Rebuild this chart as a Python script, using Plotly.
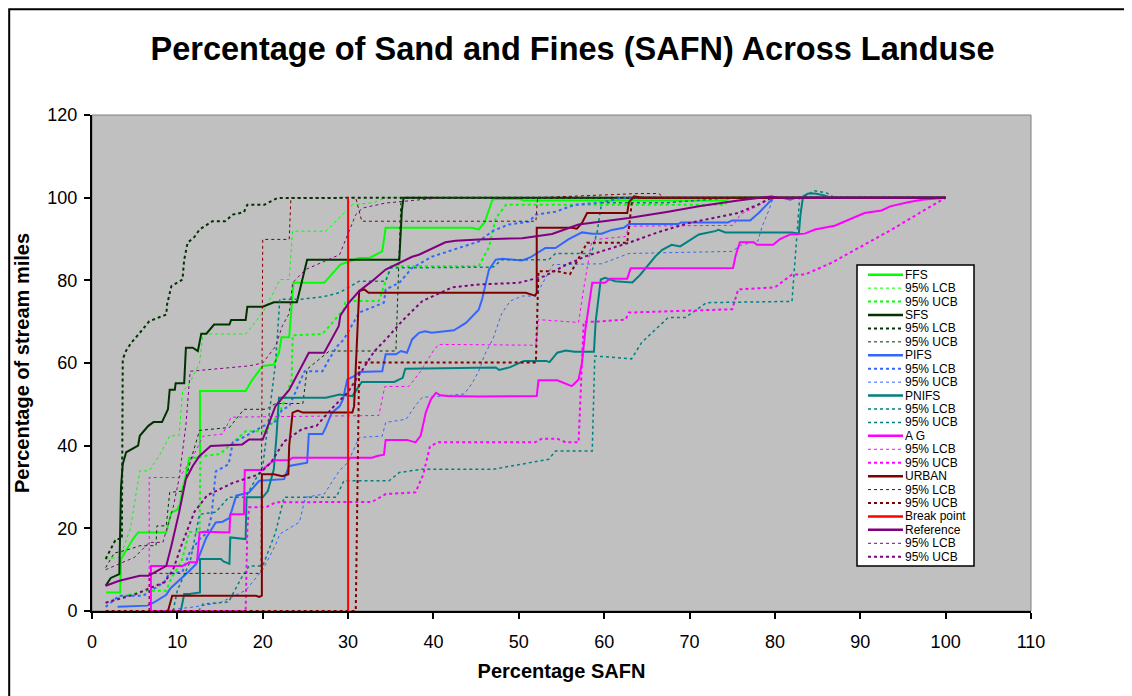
import plotly.graph_objects as go

FONT = "Liberation Sans, Arial, sans-serif"

# ---- FFS ----
ffs_x = [1.66, 3.3, 3.4, 4.8, 5.4, 8.7, 9.0, 9.3, 10.0, 10.3, 10.6, 10.9, 11.4, 12.3, 12.65, 12.65, 18.0, 18.8,
         20.0, 21.3, 21.9, 22.2, 23.1, 23.4, 23.6, 27.2, 29.1, 31.3, 32.5, 34.0, 34.4, 44.5, 45.3, 46.0, 46.9,
         47.3, 50.0, 50.6, 74.2, 74.8, 100]
ffs_y = [4.5, 4.5, 12.6, 17.4, 19.0, 19.0, 21.5, 23.8, 24.5, 25.8, 29.5, 31.9, 37.1, 37.1, 37.5, 53.2, 53.2, 56.0,
         59.3, 59.6, 62.5, 66.2, 66.2, 75.0, 79.4, 79.4, 83.8, 85.4, 85.4, 87.0, 92.7, 92.7, 92.3, 94.0, 99.5,
         99.7, 99.7, 99.3, 99.3, 100, 100]
ffs_lcb_x = [1.6, 3.3, 4.5, 5.6, 6.7, 8.0, 9.1, 10.2, 10.6, 11.4, 12.6, 13.0, 18.0, 20.0, 21.5, 22.0, 23.1, 23.5,
             27.4, 29.0, 30.5, 33.0, 34.4, 100]
ffs_lcb_y = [12.6, 13.0, 20.0, 33.9, 33.9, 38.0, 42.4, 42.4, 53.0, 55.0, 60.0, 67.0, 67.0, 72.2, 78.0, 80.2, 80.2,
             91.9, 91.9, 95.2, 98.3, 98.8, 100, 100]
ffs_ucb_x = [1.6, 3.5, 6.4, 8.7, 9.3, 10.5, 11.4, 12.6, 12.7, 15.0, 18.0, 20.4, 22.0, 23.4, 23.5, 27.0, 29.5, 29.7,
             33.6, 35.0, 45.3, 46.5, 47.3, 48.5, 74.2, 74.5, 100]
ffs_ucb_y = [2.0, 3.5, 4.9, 4.9, 8.0, 12.0, 19.1, 19.1, 37.4, 38.0, 43.5, 43.5, 48.0, 56.0, 66.7, 67.0, 73.0, 75.0,
             75.0, 83.4, 83.4, 88.0, 95.0, 98.3, 98.3, 100, 100]

# ---- SFS ----
sfs_x = [1.6, 2.2, 3.2, 3.4, 3.6, 4.0, 5.4, 5.6, 6.6, 7.2, 8.2, 8.9, 9.1, 9.7, 9.8, 10.8, 11.0, 11.8, 12.4, 12.8,
         13.4, 14.3, 16.1, 16.3, 18.0, 18.2, 20.0, 21.3, 24.0, 24.6, 25.2, 36.0, 36.3, 36.5, 100]
sfs_y = [6.1, 8.0, 8.9, 30.0, 35.5, 38.4, 40.0, 42.4, 44.8, 45.7, 45.7, 48.8, 53.5, 53.5, 55.1, 55.1, 63.7, 63.7,
         62.9, 67.1, 67.1, 69.3, 69.3, 70.4, 70.4, 73.6, 73.6, 74.7, 74.7, 80.0, 85.0, 85.0, 97.0, 100, 100]
sfs_lcb_x = [1.6, 2.8, 3.5, 3.6, 4.0, 4.6, 5.6, 6.7, 7.8, 8.7, 8.8, 9.3, 10.6, 10.8, 11.2, 12.0, 12.6, 14.1, 15.6,
             16.5, 17.8, 18.2, 20.2, 21.7, 36.5, 100]
sfs_lcb_y = [12.6, 17.4, 17.4, 60.9, 63.0, 64.9, 67.3, 70.1, 71.0, 71.7, 74.2, 78.6, 80.2, 85.0, 89.1, 90.5, 92.3,
             94.3, 94.3, 95.9, 96.5, 98.3, 98.3, 99.9, 100, 100]
sfs_ucb_x = [1.6, 2.6, 4.5, 5.6, 7.5, 7.6, 8.7, 9.1, 10.6, 11.5, 12.6, 16.1, 17.8, 20.4, 21.5, 24.7, 25.2, 27.8,
             35.6, 36.2, 100]
sfs_ucb_y = [10.5, 14.0, 15.0, 15.8, 15.8, 20.6, 20.6, 28.7, 29.0, 36.0, 43.7, 44.4, 48.8, 48.8, 50.2, 50.2, 58.5,
             62.9, 62.9, 100, 100]

# ---- PIFS ----
pifs_x = [3.0, 6.5, 7.2, 8.7, 9.2, 10.6, 11.4, 12.2, 13.0, 13.4, 14.5, 15.3, 16.1, 16.9, 18.4, 19.6, 22.5, 23.1,
          25.2, 25.4, 27.0, 27.4, 28.1, 29.0, 29.4, 29.9, 30.7, 31.3, 34.0, 34.4, 35.6, 36.2, 36.9, 37.5, 38.3,
          39.0, 39.8, 42.4, 43.8, 45.3, 45.7, 46.5, 47.3, 48.1, 50.4, 51.4, 52.3, 53.1, 54.3, 55.8, 57.4, 58.6,
          59.7, 60.9, 62.3, 62.9, 68.7, 69.0, 74.5, 75.0, 77.1, 78.1, 79.8, 81.0, 81.8, 82.5, 100]
pifs_y = [1.0, 1.3, 2.0, 3.9, 5.5, 8.1, 9.7, 11.4, 15.8, 17.8, 21.4, 21.6, 22.5, 27.9, 28.7, 31.5, 31.9, 35.1,
          35.9, 42.8, 42.8, 44.5, 48.0, 49.5, 51.2, 56.0, 56.8, 57.8, 58.0, 62.1, 62.1, 62.9, 62.5, 65.7, 67.3,
          67.7, 67.3, 67.9, 69.7, 72.9, 75.4, 82.6, 85.0, 85.2, 84.8, 85.6, 86.8, 87.8, 87.8, 89.9, 91.6, 91.3,
          91.3, 92.2, 92.7, 93.6, 93.6, 94.0, 94.0, 94.5, 94.5, 96.3, 99.9, 99.9, 99.5, 100, 100]
pifs_lcb_x = [1.6, 3.2, 6.0, 8.5, 9.0, 10.6, 11.4, 12.6, 13.5, 14.0, 14.5, 16.0, 16.5, 18.0, 20.0, 21.5, 22.3,
              23.1, 24.9, 27.0, 27.8, 28.7, 29.5, 31.3, 34.2, 34.4, 36.0, 37.5, 39.8, 45.3, 47.0, 48.8, 51.2, 52.0,
              54.3, 56.6, 59.7, 62.0, 100]
pifs_lcb_y = [1.0, 3.7, 3.7, 7.0, 9.0, 9.5, 14.0, 17.4, 19.0, 23.0, 33.8, 35.5, 40.8, 42.3, 44.7, 45.9, 48.8,
              49.5, 58.0, 58.0, 61.0, 64.0, 65.7, 72.2, 74.6, 77.8, 79.4, 83.0, 85.7, 89.4, 92.0, 93.5, 94.2, 95.9,
              96.6, 98.3, 98.8, 100, 100]
pifs_ucb_x = [8.0, 12.0, 15.0, 18.0, 20.0, 21.5, 22.0, 24.3, 25.0, 27.2, 29.0, 30.0, 31.3, 34.0, 34.4, 36.8, 38.0,
              38.7, 41.0, 43.6, 44.5, 45.3, 46.0, 47.0, 48.0, 49.0, 50.4, 52.0, 52.5, 53.5, 54.0, 59.7, 62.9, 75.0,
              76.0, 78.0, 78.5, 79.3, 79.8, 100]
pifs_ucb_y = [0.0, 1.0, 2.0, 5.0, 10.0, 16.0, 18.6, 21.5, 27.5, 28.3, 34.0, 36.0, 42.0, 42.3, 45.6, 46.4, 50.0,
              51.7, 52.0, 52.5, 55.0, 58.0, 62.0, 66.0, 72.0, 75.0, 76.2, 76.2, 78.2, 82.0, 83.8, 84.0, 86.5, 87.0,
              88.5, 89.5, 93.0, 97.0, 100, 100]

# ---- PNIFS ----
pnifs_x = [10.4, 10.8, 11.4, 12.65, 12.65, 15.1, 15.4, 16.1, 16.2, 18.0, 18.1, 20.0, 20.6, 21.3, 21.6, 21.9, 27.4,
           29.0, 30.5, 31.1, 31.6, 35.4, 36.4, 36.7, 45.3, 47.3, 47.7, 49.0, 50.6, 53.2, 53.6, 54.5, 55.5, 56.5,
           58.8, 59.0, 59.6, 60.1, 61.3, 63.3, 64.2, 65.2, 66.0, 66.8, 67.5, 67.9, 68.9, 69.9, 71.1, 73.0, 73.4,
           74.2, 82.0, 82.8, 83.0, 83.3, 83.9, 84.7, 85.9, 86.5, 100]
pnifs_y = [0.0, 4.1, 4.1, 4.5, 12.6, 12.6, 12.0, 11.4, 17.8, 17.4, 27.5, 27.5, 29.0, 34.3, 42.0, 51.6, 51.6,
           52.4, 52.0, 54.0, 55.4, 55.4, 56.4, 58.6, 58.9, 58.9, 58.3, 59.0, 60.5, 60.5, 60.2, 62.5, 63.0, 62.7,
           62.7, 70.0, 80.2, 80.6, 79.8, 79.5, 81.3, 83.8, 85.8, 87.4, 88.2, 88.6, 88.2, 89.5, 91.1, 91.9, 92.2,
           91.6, 91.6, 91.3, 96.0, 100.3, 101.0, 101.0, 100.5, 100, 100]
pnifs_lcb_x = [9.5, 10.0, 11.5, 12.6, 14.5, 16.0, 18.0, 20.0, 21.5, 22.0, 24.3, 27.0, 29.0, 31.3, 34.4, 35.0,
               47.0, 48.0, 53.5, 54.3, 58.5, 59.2, 59.7, 67.5, 72.0, 75.0, 83.5, 84.5, 86.0, 87.0, 100]
pnifs_lcb_y = [0.0, 5.0, 12.0, 23.4, 23.9, 27.5, 27.5, 35.0, 60.0, 75.4, 75.4, 76.0, 77.0, 79.8, 79.8, 83.0,
               83.2, 85.0, 85.0, 86.5, 86.5, 92.0, 98.8, 98.8, 99.5, 100, 100, 101.7, 101.2, 100, 100]
pnifs_ucb_x = [12.5, 13.0, 16.0, 17.5, 18.4, 20.0, 21.5, 22.5, 28.6, 29.5, 34.8, 36.0, 38.6, 47.0, 53.5, 54.3,
               58.6, 58.9, 63.2, 64.4, 67.5, 69.5, 72.0, 82.0, 82.9, 100]
pnifs_ucb_y = [0.0, 1.7, 2.2, 8.0, 10.9, 10.9, 19.0, 27.5, 27.5, 31.5, 31.5, 33.5, 34.3, 34.3, 36.7, 38.7, 38.7,
               61.7, 61.0, 65.0, 71.0, 71.0, 74.6, 74.9, 100, 100]

# ---- AG ----
ag_x = [6.9, 6.9, 10.6, 11.4, 12.3, 12.6, 13.2, 16.1, 16.2, 17.8, 17.9, 20.0, 20.3, 21.3, 23.1, 23.5, 32.8, 33.4,
        34.2, 34.4, 36.9, 37.9, 38.5, 39.1, 39.7, 40.3, 40.8, 41.7, 45.3, 52.1, 52.3, 54.5, 56.2, 57.0, 57.4,
        57.8, 58.2, 58.6, 60.1, 60.7, 62.7, 63.1, 75.1, 75.4, 75.9, 77.5, 77.9, 79.8, 80.6, 81.8, 83.5, 84.7,
        87.0, 88.8, 90.5, 92.5, 93.5, 95.6, 97.2, 100]
ag_y = [0.0, 10.9, 10.9, 11.8, 11.8, 19.0, 19.2, 19.0, 23.4, 23.4, 34.1, 34.1, 34.8, 36.5, 36.5, 37.1, 37.1, 37.5,
        37.8, 41.4, 41.4, 40.8, 42.4, 48.0, 51.2, 52.8, 52.2, 52.0, 51.9, 52.0, 55.8, 55.8, 54.4, 56.0, 60.0,
        68.1, 73.8, 79.4, 79.4, 80.4, 80.4, 82.9, 83.0, 86.0, 89.2, 89.2, 88.6, 88.6, 90.0, 91.1, 91.3, 92.3,
        93.2, 94.7, 96.3, 96.9, 97.9, 98.9, 99.5, 100]
ag_lcb_x = [6.7, 6.7, 10.2, 11.5, 13.0, 15.3, 16.3, 33.6, 34.3, 37.1, 38.5, 40.0, 40.6, 52.0, 52.3, 57.0, 57.6,
            58.5, 59.0, 62.5, 62.9, 75.1, 76.0, 78.0, 79.6, 100]
ag_lcb_y = [0.0, 32.3, 32.3, 36.0, 42.3, 42.8, 46.9, 47.3, 54.3, 54.3, 58.0, 63.0, 64.5, 64.3, 70.5, 69.8, 78.0,
            89.0, 89.9, 90.6, 93.1, 93.3, 96.0, 98.0, 100, 100]
ag_ucb_x = [6.9, 18.0, 18.2, 18.4, 20.4, 21.5, 32.8, 34.4, 37.9, 38.8, 39.6, 40.6, 51.9, 52.7, 54.5, 55.5, 57.0,
            57.6, 59.0, 62.5, 62.9, 75.0, 75.7, 80.0, 82.0, 83.5, 86.6, 89.8, 93.7, 97.6, 100]
ag_ucb_y = [0.0, 0.0, 20.0, 25.1, 25.1, 26.3, 26.4, 28.3, 28.7, 33.0, 39.9, 40.8, 40.8, 41.7, 41.7, 40.8, 40.8,
            70.0, 70.0, 70.5, 72.2, 73.0, 77.8, 78.3, 81.4, 81.4, 84.2, 87.9, 92.3, 97.1, 100]

# ---- URBAN ----
urban_x = [8.9, 9.2, 9.4, 19.2, 19.6, 19.9, 19.9, 21.3, 22.3, 23.0, 23.1, 23.5, 24.1, 24.7, 30.5, 30.7, 30.9,
           31.3, 31.9, 32.4, 50.8, 51.9, 52.1, 52.1, 56.2, 56.8, 57.4, 58.0, 62.7, 62.9, 63.5, 64.5, 100]
urban_y = [0.0, 2.7, 3.7, 3.7, 3.4, 3.7, 33.1, 33.1, 32.6, 33.1, 40.0, 48.0, 48.5, 48.0, 48.0, 49.5, 60.0, 77.4,
           77.8, 77.0, 77.0, 76.3, 77.0, 92.7, 92.7, 92.5, 93.9, 96.3, 96.3, 98.9, 100.3, 100, 100]
urban_lcb_x = [6.7, 6.7, 19.8, 20.0, 23.1, 23.3, 30.9, 31.6, 52.0, 52.2, 64.0, 66.4, 67.0, 100]
urban_lcb_y = [0.0, 9.1, 9.1, 89.9, 89.9, 100, 100, 94.3, 94.3, 100, 101.0, 101.0, 100, 100]
urban_ucb_x = [1.6, 30.9, 31.3, 52.0, 52.3, 54.5, 56.0, 57.5, 58.0, 62.7, 63.3, 100]
urban_ucb_y = [0.0, 0.0, 60.1, 60.1, 82.2, 82.2, 81.5, 87.0, 89.1, 89.1, 100, 100]

# ---- Break point ----
brk_x = [30, 30]
brk_y = [0, 100]

# ---- Reference ----
ref_x = [1.6, 3.2, 5.6, 6.6, 7.5, 8.7, 9.3, 10.2, 11.0, 11.8, 12.6, 13.0, 13.9, 17.6, 18.4, 20.0, 20.6, 21.5,
         23.1, 25.4, 27.2, 28.9, 29.1, 30.1, 31.3, 32.8, 34.4, 36.0, 37.5, 38.3, 39.9, 41.4, 42.6, 45.3, 50.4,
         53.9, 57.0, 62.9, 67.5, 71.1, 75.7, 79.6, 80.5, 100]
ref_y = [6.1, 7.3, 8.5, 8.5, 9.5, 10.9, 15.8, 23.8, 31.9, 35.1, 37.5, 38.2, 39.9, 40.3, 41.5, 41.5, 44.8, 49.6,
         53.5, 62.5, 62.5, 68.9, 71.5, 74.6, 77.4, 79.8, 82.6, 84.2, 85.7, 86.2, 87.8, 89.2, 89.6, 89.9, 90.2,
         91.2, 93.5, 95.1, 96.6, 97.9, 99.3, 100.3, 100, 100]
ref_lcb_x = [1.6, 5.0, 6.7, 8.3, 9.5, 10.2, 11.0, 11.5, 18.4, 20.0, 21.5, 22.3, 23.1, 23.5, 25.0, 27.8, 29.0, 30.9,
             31.7, 34.4, 39.0, 41.0, 100]
ref_lcb_y = [10.0, 13.0, 16.6, 16.6, 25.0, 32.0, 45.0, 58.0, 59.3, 60.0, 64.0, 69.0, 72.0, 79.4, 82.6, 85.0, 86.2,
             95.9, 97.5, 98.7, 99.5, 100, 100]
ref_ucb_x = [1.6, 5.0, 8.5, 9.5, 10.5, 12.0, 13.5, 16.5, 19.5, 21.0, 22.5, 24.6, 26.3, 28.2, 30.0, 33.1, 34.6,
             36.3, 38.7, 42.2, 45.3, 50.0, 53.0, 55.6, 57.8, 62.9, 66.4, 70.0, 75.7, 78.0, 79.6, 100]
ref_ucb_y = [2.0, 4.0, 7.0, 10.0, 16.0, 24.0, 28.0, 31.0, 33.0, 36.0, 41.0, 44.0, 44.8, 49.2, 53.0, 62.9, 66.1,
             70.1, 75.0, 78.3, 79.0, 79.4, 81.0, 83.8, 85.8, 89.1, 91.7, 93.9, 96.3, 98.3, 100, 100]

# name, x, y, color, width, dash
series = [
    ("FFS", ffs_x, ffs_y, "#00FF00", 2, "solid"),
    ("95% LCB", ffs_lcb_x, ffs_lcb_y, "#00FF00", 1, "dot"),
    ("95% UCB", ffs_ucb_x, ffs_ucb_y, "#00FF00", 2, "dot"),
    ("SFS", sfs_x, sfs_y, "#003300", 2, "solid"),
    ("95% LCB", sfs_lcb_x, sfs_lcb_y, "#003300", 2, "dot"),
    ("95% UCB", sfs_ucb_x, sfs_ucb_y, "#003300", 1, "dot"),
    ("PIFS", pifs_x, pifs_y, "#3366FF", 2, "solid"),
    ("95% LCB", pifs_lcb_x, pifs_lcb_y, "#3366FF", 2, "dot"),
    ("95% UCB", pifs_ucb_x, pifs_ucb_y, "#3366FF", 1, "dot"),
    ("PNIFS", pnifs_x, pnifs_y, "#008080", 2, "solid"),
    ("95% LCB", pnifs_lcb_x, pnifs_lcb_y, "#008080", 1.5, "dot"),
    ("95% UCB", pnifs_ucb_x, pnifs_ucb_y, "#008080", 1.5, "dot"),
    ("A G", ag_x, ag_y, "#FF00FF", 2, "solid"),
    ("95% LCB", ag_lcb_x, ag_lcb_y, "#FF00FF", 1, "dot"),
    ("95% UCB", ag_ucb_x, ag_ucb_y, "#FF00FF", 2, "dot"),
    ("URBAN", urban_x, urban_y, "#800000", 2, "solid"),
    ("95% LCB", urban_lcb_x, urban_lcb_y, "#800000", 1, "dot"),
    ("95% UCB", urban_ucb_x, urban_ucb_y, "#800000", 2, "dot"),
    ("Break point", brk_x, brk_y, "#FF0000", 2, "solid"),
    ("Reference", ref_x, ref_y, "#800080", 2, "solid"),
    ("95% LCB", ref_lcb_x, ref_lcb_y, "#800080", 1, "dot"),
    ("95% UCB", ref_ucb_x, ref_ucb_y, "#800080", 2, "dot"),
]

fig = go.Figure()
for name, xs, ys, col, w, dash in series:
    fig.add_trace(go.Scatter(x=xs, y=ys, mode="lines", name=name, showlegend=False,
                             line=dict(color=col, width=w, dash=dash)))

# the page puts the figure 8px in from the top-left corner, so work in
# window pixels and take that offset off
OFF = 8
W, H = 1132 - OFF, 696 - OFF
# plot area in window pixels: x 92..1031, y 115..611
L, R, T, B = 92, 1031, 115, 611


def px_x(p):
    return (p - L) / (R - L)


def px_y(p):
    return (B - p) / (B - T)


shapes = []
annotations = []

# outer chart border (only top and left edges fall inside the picture)
shapes.append(dict(type="rect", xref="paper", yref="paper", x0=px_x(OFF + 1.2), x1=px_x(1150),
                   y0=px_y(720), y1=px_y(OFF + 1.2), line=dict(color="black", width=2), fillcolor="rgba(0,0,0,0)"))
# plot area border
shapes.append(dict(type="rect", xref="paper", yref="paper", x0=0, x1=1, y0=0, y1=1,
                   line=dict(color="#808080", width=1), layer="below"))

# hand-built legend box
shapes.append(dict(type="rect", xref="paper", yref="paper", x0=px_x(857), x1=px_x(974),
                   y0=px_y(566), y1=px_y(265), line=dict(color="black", width=1.5), fillcolor="white"))
for i, (name, xs, ys, col, w, dash) in enumerate(series):
    yc = 274.7 + i * 13.43
    shapes.append(dict(type="line", xref="paper", yref="paper", x0=px_x(868), x1=px_x(903),
                       y0=px_y(yc), y1=px_y(yc), line=dict(color=col, width=w if dash == "dot" else 2.5, dash=dash)))
    annotations.append(dict(text=name, xref="paper", yref="paper", x=px_x(903), y=px_y(yc),
                            xanchor="left", yanchor="middle", showarrow=False,
                            font=dict(family=FONT, size=12, color="black")))

axis_common = dict(showline=True, linecolor="black", linewidth=2, ticks="outside", ticklen=6, tickwidth=2,
                   tickcolor="black", showgrid=False, zeroline=False,
                   tickfont=dict(family=FONT, size=18, color="black"))

fig.update_layout(
    width=W, height=H,
    margin=dict(l=L - OFF, r=1132 - R, t=T - OFF, b=696 - B),
    paper_bgcolor="white", plot_bgcolor="#C0C0C0",
    title=dict(text="<b>Percentage of Sand and Fines (SAFN) Across Landuse</b>",
               x=(572.5 - OFF) / W, xref="container", xanchor="center",
               y=1 - (49 - OFF) / H, yref="container", yanchor="middle",
               font=dict(family=FONT, size=32.5, color="black")),
    xaxis=dict(range=[0, 110], tick0=0, dtick=10, ticklabelstandoff=7,
               title=dict(text="<b>Percentage SAFN</b>", font=dict(family=FONT, size=20, color="black"),
                          standoff=13),
               **axis_common),
    yaxis=dict(range=[0, 120], tick0=0, dtick=20, ticklabelstandoff=3,
               title=dict(text="<b>Percentage of stream miles</b>", font=dict(family=FONT, size=20, color="black"),
                          standoff=12),
               **axis_common),
    shapes=shapes,
    annotations=annotations,
    showlegend=False,
)

fig.write_html("out.html")
